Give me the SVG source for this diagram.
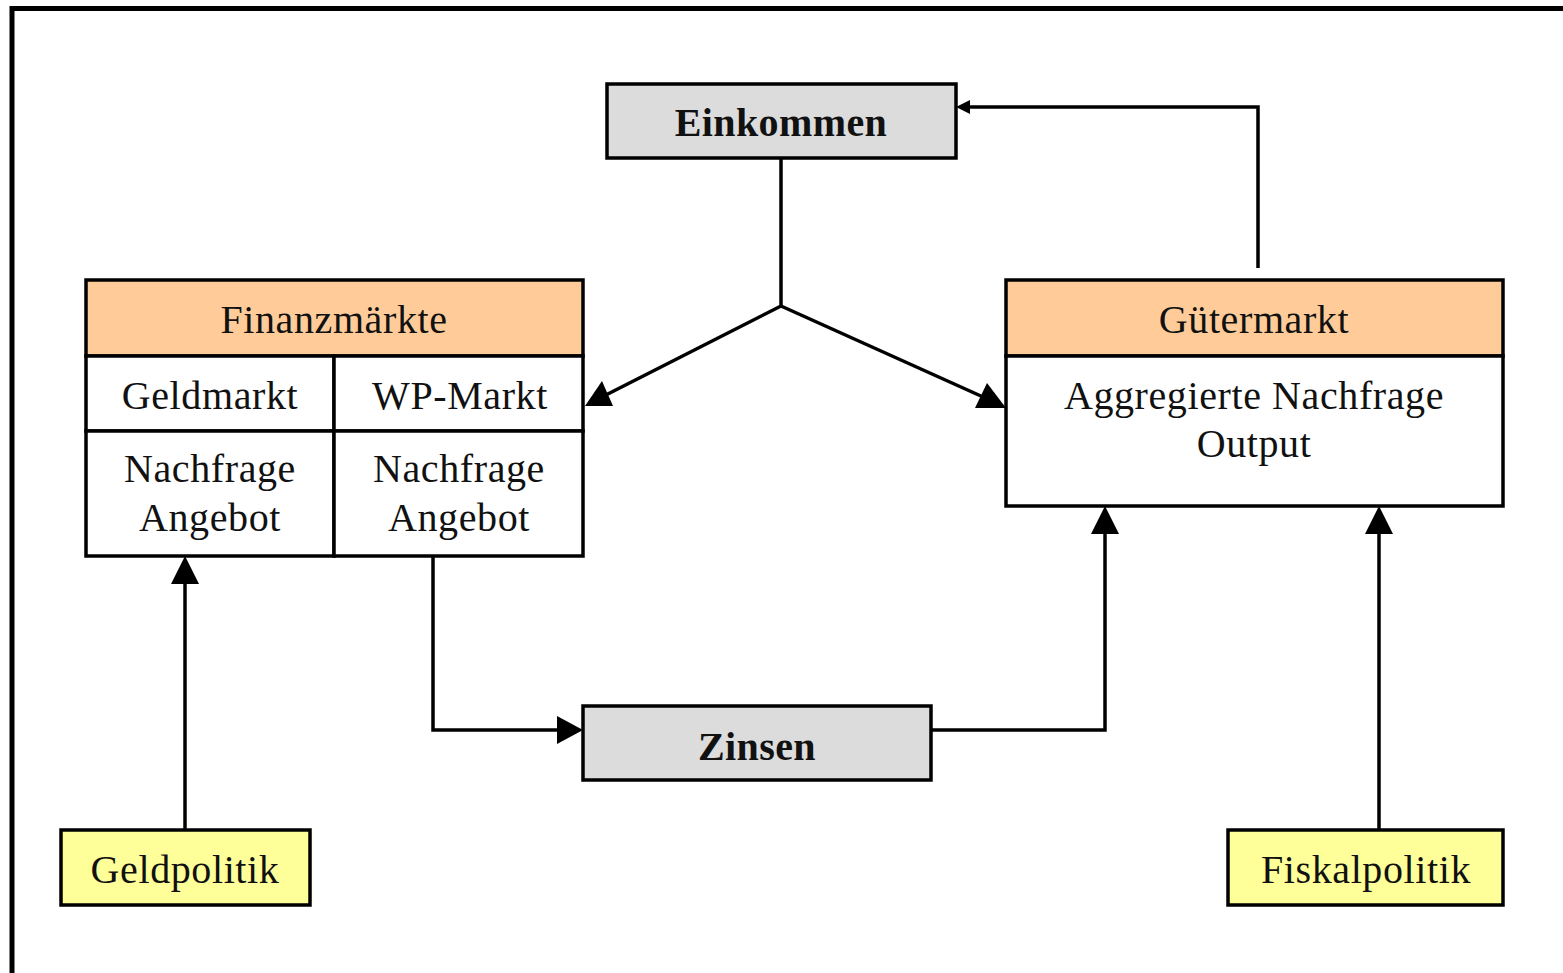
<svg xmlns="http://www.w3.org/2000/svg" width="1563" height="973" viewBox="0 0 1563 973">
<defs>
<style>
.box{stroke:#000;stroke-width:3.5}
.grey{fill:#dcdcdc}
.orange{fill:#ffcc99}
.white{fill:#fff}
.yellow{fill:#ffff99}
.t{font-family:"Liberation Serif","Times New Roman",serif;font-size:40px;fill:#111;text-anchor:middle;letter-spacing:0.6px}
.b{font-weight:bold;letter-spacing:0.4px}
.ln{fill:none;stroke:#000;stroke-width:3.5}
.ah{fill:#000}
</style>
</defs>
<rect width="1563" height="973" fill="#fff"/>
<path d="M12,973 V8.5 H1563" fill="none" stroke="#000" stroke-width="5"/>

<g id="connectors">
<path class="ln" d="M781,158 V306" stroke-width="3"/>
<path class="ln" d="M781,306 L598,399" stroke-width="4"/>
<polygon class="ah" points="585,406 613,406 602,381"/>
<path class="ln" d="M781,306 L992,401" stroke-width="4"/>
<polygon class="ah" points="1006,408 975,408 987,383"/>
<path class="ln" d="M1258,268 V107 H965" stroke-width="2.5"/>
<polygon class="ah" points="956,107 970,100 970,114"/>
<path class="ln" d="M433,556 V730 H558"/>
<polygon class="ah" points="583,730 557,716 557,744"/>
<path class="ln" d="M931,730 H1105 V532"/>
<polygon class="ah" points="1105,506 1091,534 1119,534"/>
<path class="ln" d="M185,830 V582"/>
<polygon class="ah" points="185,556 171,584 199,584"/>
<path class="ln" d="M1379,830 V532"/>
<polygon class="ah" points="1379,506 1365,534 1393,534"/>
</g>

<g id="einkommen">
<rect class="box grey" x="607" y="84" width="349" height="74"/>
<text class="t b" x="781" y="136">Einkommen</text>
</g>

<g id="finanzmaerkte">
<rect class="box orange" x="86" y="280" width="497" height="76"/>
<rect class="box white" x="86" y="356" width="248" height="75"/>
<rect class="box white" x="334" y="356" width="249" height="75"/>
<rect class="box white" x="86" y="431" width="248" height="125"/>
<rect class="box white" x="334" y="431" width="249" height="125"/>
<text class="t" x="334" y="333">Finanzmärkte</text>
<text class="t" x="210" y="409">Geldmarkt</text>
<text class="t" x="460" y="409">WP-Markt</text>
<text class="t" x="210" y="482">Nachfrage</text>
<text class="t" x="210" y="531">Angebot</text>
<text class="t" x="459" y="482">Nachfrage</text>
<text class="t" x="459" y="531">Angebot</text>
</g>

<g id="guetermarkt">
<rect class="box orange" x="1006" y="280" width="497" height="76"/>
<rect class="box white" x="1006" y="356" width="497" height="150"/>
<text class="t" x="1254" y="333">Gütermarkt</text>
<text class="t" x="1254" y="409">Aggregierte Nachfrage</text>
<text class="t" x="1254" y="457">Output</text>
</g>

<g id="zinsen">
<rect class="box grey" x="583" y="706" width="348" height="74"/>
<text class="t b" x="757" y="760">Zinsen</text>
</g>

<g id="geldpolitik">
<rect class="box yellow" x="61" y="830" width="249" height="75"/>
<text class="t" x="185" y="883">Geldpolitik</text>
</g>

<g id="fiskalpolitik">
<rect class="box yellow" x="1228" y="830" width="275" height="75"/>
<text class="t" x="1366" y="883">Fiskalpolitik</text>
</g>
</svg>
